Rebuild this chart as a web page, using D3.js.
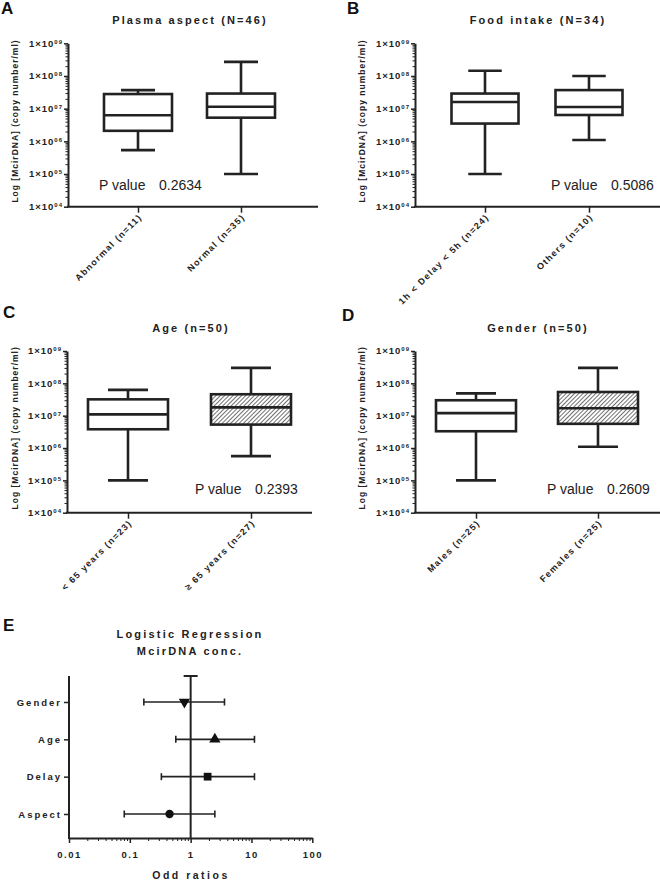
<!DOCTYPE html>
<html><head><meta charset="utf-8">
<script src="https://cdn.jsdelivr.net/npm/d3@7"></script>
<style>
body{margin:0;background:#fff;}
svg{display:block;font-family:"Liberation Sans",Arial,sans-serif;}
</style></head>
<body>
<svg id="chart" width="660" height="880"></svg>
<script>
// ---------------- DATA ----------------
// box stats: [min, Q1, median, Q3, max]
const panelA_groups = ["Abnormal (n=11)", "Normal (n=35)"];
const panelA_stats = [[5.4e5, 2.1e6, 6.3e6, 2.8e7, 3.7e7], [1.0e5, 5.3e6, 1.15e7, 2.9e7, 2.7e8]];
const panelA_title = "Plasma aspect (N=46)";
const panelA_p = "0.2634";

const panelB_groups = ["1h < Delay < 5h (n=24)", "Others (n=10)"];
const panelB_stats = [[1.0e5, 3.5e6, 1.6e7, 2.9e7, 1.45e8], [1.1e6, 6.4e6, 1.12e7, 3.7e7, 1.0e8]];
const panelB_title = "Food intake (N=34)";
const panelB_p = "0.5086";

const panelC_groups = ["< 65 years (n=23)", "\u2265 65 years (n=27)"];
const panelC_stats = [[1.0e5, 3.8e6, 1.1e7, 3.2e7, 6.3e7], [5.6e5, 5.3e6, 1.8e7, 4.6e7, 3.0e8]];
const panelC_title = "Age (n=50)";
const panelC_p = "0.2393";

const panelD_groups = ["Males (n=25)", "Females (n=25)"];
const panelD_stats = [[1.0e5, 3.3e6, 1.2e7, 3.0e7, 4.9e7], [1.1e6, 5.6e6, 1.7e7, 5.4e7, 3.0e8]];
const panelD_title = "Gender (n=50)";
const panelD_p = "0.2609";

const yTickExponents = ["04", "05", "06", "07", "08", "09"];
const yAxisTitle = "Log [McirDNA] (copy number/ml)";

const orLabels = ["Gender", "Age", "Delay", "Aspect"];
const orValues = [0.79, 2.5, 1.9, 0.45];
const orLow = [0.17, 0.57, 0.33, 0.081];
const orHigh = [3.6, 11.2, 11.2, 2.5];
const orTicks = [0.01, 0.1, 1, 10, 100];
const orTickLabels = ["0.01", "0.1", "1", "10", "100"];

// ---------------- DRAW ----------------
const svg = d3.select("#chart");
const defs = svg.append("defs");
const pat = defs.append("pattern").attr("id", "hatch").attr("patternUnits", "userSpaceOnUse")
  .attr("width", 3).attr("height", 3).attr("patternTransform", "rotate(45)");
pat.append("rect").attr("width", 3).attr("height", 3).attr("fill", "#fff");
pat.append("line").attr("x1", 0).attr("y1", 0).attr("x2", 0).attr("y2", 3)
  .attr("stroke", "#333").attr("stroke-width", 1.4);

const FONT = "'Liberation Sans',Arial,sans-serif";

function panelLetter(t, x, y) {
  svg.append("text").attr("x", x).attr("y", y).text(t)
    .attr("font-size", 17).attr("font-weight", "bold").attr("fill", "#111");
}

function boxPanel(cfg) {
  const g = svg.append("g");
  const y = d3.scaleLog().domain([1e4, 1e9]).range([cfg.bottom, cfg.top]);
  const x = d3.scalePoint().domain(cfg.groups).range([cfg.c1, cfg.c2]);

  // title
  g.append("text").attr("x", cfg.titleX).attr("y", cfg.titleY).text(cfg.title)
    .attr("text-anchor", "middle").attr("font-size", 11).attr("font-weight", "bold")
    .attr("letter-spacing", 2.1).attr("fill", "#222");

  // y axis minor ticks
  const minor = [];
  for (let e = 4; e < 9; e++) for (let k = 2; k <= 9; k++) minor.push(k * Math.pow(10, e));
  g.append("g").attr("transform", `translate(${cfg.axisX},0)`)
    .call(d3.axisLeft(y).tickValues(minor).tickSize(2.5).tickFormat(""))
    .call(s => s.select(".domain").remove())
    .call(s => s.selectAll("line").attr("stroke", "#222").attr("stroke-width", 1));
  // y axis major
  const majors = yTickExponents.map(e => Math.pow(10, +e));
  const ya = g.append("g").attr("transform", `translate(${cfg.axisX},0)`)
    .call(d3.axisLeft(y).tickValues(majors).tickSize(4).tickSizeOuter(0).tickFormat(""));
  ya.select(".domain").attr("stroke", "#222").attr("stroke-width", 2);
  ya.selectAll("line").attr("stroke", "#222").attr("stroke-width", 1.5);
  ya.selectAll(".tick").each(function(d, i) {
    const t = d3.select(this).append("text").attr("x", -5).attr("dy", "0.3em")
      .attr("text-anchor", "end").attr("fill", "#222").attr("font-size", 9.5)
      .attr("font-weight", "bold").attr("letter-spacing", 1).attr("font-family", FONT);
    t.append("tspan").text("1\u00d710");
    t.append("tspan").text(yTickExponents[i]).attr("font-size", 6).attr("dy", "-0.5em");
  });
  // y axis title
  g.append("text").attr("transform", `translate(${cfg.yTitleX},${(cfg.top + cfg.bottom) / 2 - 4}) rotate(-90)`)
    .text(yAxisTitle).attr("text-anchor", "middle").attr("font-size", 8.5)
    .attr("font-weight", "bold").attr("letter-spacing", 1).attr("fill", "#222");

  // x axis
  g.append("line").attr("x1", cfg.axisX - 1).attr("x2", cfg.xEnd).attr("y1", cfg.bottom).attr("y2", cfg.bottom)
    .attr("stroke", "#222").attr("stroke-width", 2);
  const xa = g.append("g").attr("transform", `translate(0,${cfg.bottom})`)
    .call(d3.axisBottom(x).tickSize(6).tickSizeOuter(0).tickFormat(""));
  xa.select(".domain").remove();
  xa.selectAll("line").attr("stroke", "#222").attr("stroke-width", 1.5);
  xa.selectAll(".tick").append("text")
    .attr("transform", "translate(4,11) rotate(-45)")
    .attr("text-anchor", "end").attr("fill", "#222").attr("font-size", 9)
    .attr("font-weight", "bold").attr("letter-spacing", 1.3).attr("font-family", FONT)
    .text(d => d);

  // boxes
  const bw = cfg.boxW;
  cfg.groups.forEach((grp, i) => {
    const s = cfg.stats[i];
    const cx = x(grp);
    const bg = g.append("g").attr("stroke", "#222").attr("stroke-width", 2.6).attr("fill", "none");
    bg.append("line").attr("x1", cx).attr("x2", cx).attr("y1", y(s[0])).attr("y2", y(s[1]));
    bg.append("line").attr("x1", cx).attr("x2", cx).attr("y1", y(s[3])).attr("y2", y(s[4]));
    bg.append("line").attr("x1", cx - bw / 4).attr("x2", cx + bw / 4).attr("y1", y(s[0])).attr("y2", y(s[0]));
    bg.append("line").attr("x1", cx - bw / 4).attr("x2", cx + bw / 4).attr("y1", y(s[4])).attr("y2", y(s[4]));
    bg.append("rect").attr("x", cx - bw / 2).attr("width", bw)
      .attr("y", y(s[3])).attr("height", y(s[1]) - y(s[3]))
      .attr("fill", (cfg.hatch && i === 1) ? "url(#hatch)" : "#fff");
    bg.append("line").attr("x1", cx - bw / 2).attr("x2", cx + bw / 2).attr("y1", y(s[2])).attr("y2", y(s[2]));
  });

  // p value
  g.append("text").attr("x", cfg.pX).attr("y", cfg.pY).text("P value")
    .attr("font-size", 14).attr("fill", "#222");
  g.append("text").attr("x", cfg.pX + cfg.pGap).attr("y", cfg.pY).text(cfg.p)
    .attr("font-size", 14).attr("fill", "#222");
}

panelLetter("A", 1, 14);
boxPanel({groups: panelA_groups, stats: panelA_stats, title: panelA_title, p: panelA_p,
  top: 43.3, bottom: 206.7, axisX: 68, xEnd: 318, c1: 138, c2: 241, boxW: 68,
  titleX: 190, titleY: 24, yTitleX: 18, pX: 99, pY: 190, pGap: 60, hatch: false});

panelLetter("B", 347, 14);
boxPanel({groups: panelB_groups, stats: panelB_stats, title: panelB_title, p: panelB_p,
  top: 43.3, bottom: 206.7, axisX: 415, xEnd: 660, c1: 485, c2: 589, boxW: 67,
  titleX: 538, titleY: 24, yTitleX: 365, pX: 551, pY: 190, pGap: 60, hatch: false});

panelLetter("C", 3, 318);
boxPanel({groups: panelC_groups, stats: panelC_stats, title: panelC_title, p: panelC_p,
  top: 351, bottom: 512.7, axisX: 67, xEnd: 312, c1: 128, c2: 251, boxW: 80,
  titleX: 191, titleY: 332, yTitleX: 18, pX: 195, pY: 494, pGap: 60, hatch: true});

panelLetter("D", 342, 321);
boxPanel({groups: panelD_groups, stats: panelD_stats, title: panelD_title, p: panelD_p,
  top: 351, bottom: 512.7, axisX: 415, xEnd: 660, c1: 476, c2: 598, boxW: 80,
  titleX: 538, titleY: 332, yTitleX: 365, pX: 547, pY: 494, pGap: 60, hatch: true});

// ---------------- PANEL E ----------------
panelLetter("E", 3, 631);
(function() {
  const g = svg.append("g");
  const left = 69, right = 312.3, top = 676, bottom = 838;
  const x = d3.scaleLog().domain([0.01, 100]).range([left, right]);
  const y = d3.scalePoint().domain(orLabels).range([702, 814]);

  g.append("text").attr("x", 190).attr("y", 638).text("Logistic Regression")
    .attr("text-anchor", "middle").attr("font-size", 11).attr("font-weight", "bold")
    .attr("letter-spacing", 2.2).attr("fill", "#222");
  g.append("text").attr("x", 190).attr("y", 655).text("McirDNA conc.")
    .attr("text-anchor", "middle").attr("font-size", 11).attr("font-weight", "bold")
    .attr("letter-spacing", 2.2).attr("fill", "#222");

  // y axis
  g.append("line").attr("x1", left).attr("x2", left).attr("y1", top).attr("y2", bottom + 1)
    .attr("stroke", "#222").attr("stroke-width", 2);
  const ya = g.append("g").attr("transform", `translate(${left},0)`)
    .call(d3.axisLeft(y).tickSize(5).tickSizeOuter(0).tickFormat(""));
  ya.select(".domain").remove();
  ya.selectAll("line").attr("stroke", "#222").attr("stroke-width", 1.5);
  ya.selectAll(".tick").append("text").attr("x", -7).attr("dy", "0.35em")
    .attr("text-anchor", "end").attr("fill", "#222").attr("font-size", 9.5)
    .attr("font-weight", "bold").attr("letter-spacing", 2).attr("font-family", FONT)
    .text(d => d);

  // x axis
  const minor = [];
  for (let e = -2; e < 2; e++) for (let k = 2; k <= 9; k++) minor.push(k * Math.pow(10, e));
  g.append("g").attr("transform", `translate(0,${bottom})`)
    .call(d3.axisBottom(x).tickValues(minor).tickSize(3).tickFormat(""))
    .call(s => s.select(".domain").remove())
    .call(s => s.selectAll("line").attr("stroke", "#222").attr("stroke-width", 1));
  const xa = g.append("g").attr("transform", `translate(0,${bottom})`)
    .call(d3.axisBottom(x).tickValues(orTicks).tickSize(5).tickSizeOuter(0).tickFormat((d, i) => orTickLabels[i]));
  xa.select(".domain").attr("stroke", "#222").attr("stroke-width", 2);
  xa.selectAll("line").attr("stroke", "#222").attr("stroke-width", 1.5);
  xa.selectAll("text").attr("y", 13).attr("fill", "#222").attr("font-size", 9.5)
    .attr("font-weight", "bold").attr("letter-spacing", 1.5).attr("font-family", FONT);
  g.append("text").attr("x", 191).attr("y", 879).text("Odd ratios")
    .attr("text-anchor", "middle").attr("font-size", 10.5).attr("font-weight", "bold")
    .attr("letter-spacing", 2.5).attr("fill", "#222");

  // reference line at OR = 1
  g.append("line").attr("x1", x(1)).attr("x2", x(1)).attr("y1", top).attr("y2", bottom)
    .attr("stroke", "#222").attr("stroke-width", 2);
  g.append("line").attr("x1", x(1) - 7).attr("x2", x(1) + 7).attr("y1", top).attr("y2", top)
    .attr("stroke", "#222").attr("stroke-width", 2);

  const shapes = [d3.symbolTriangle, d3.symbolTriangle, d3.symbolSquare, d3.symbolCircle];
  orLabels.forEach((lab, i) => {
    const cy = y(lab);
    const eg = g.append("g").attr("stroke", "#222").attr("stroke-width", 1.6);
    eg.append("line").attr("x1", x(orLow[i])).attr("x2", x(orHigh[i])).attr("y1", cy).attr("y2", cy);
    eg.append("line").attr("x1", x(orLow[i])).attr("x2", x(orLow[i])).attr("y1", cy - 3.5).attr("y2", cy + 3.5);
    eg.append("line").attr("x1", x(orHigh[i])).attr("x2", x(orHigh[i])).attr("y1", cy - 3.5).attr("y2", cy + 3.5);
    const sz = shapes[i] === d3.symbolCircle ? 55 : (shapes[i] === d3.symbolSquare ? 60 : 55);
    g.append("path").attr("d", d3.symbol().type(shapes[i]).size(sz)())
      .attr("transform", `translate(${x(orValues[i])},${cy}) rotate(${i === 0 ? 180 : 0})`)
      .attr("fill", "#111");
  });
})();
</script>
</body></html>
